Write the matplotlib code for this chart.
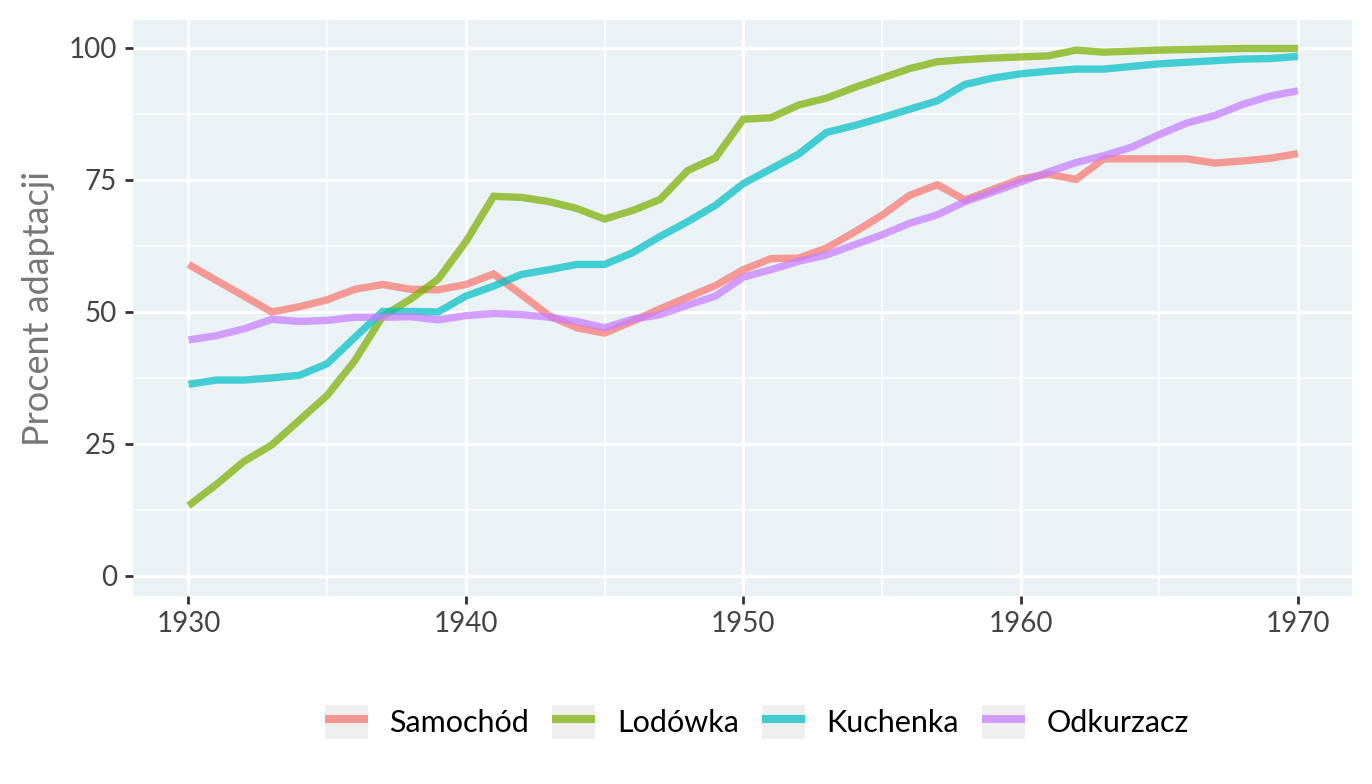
"""
plot.py — household appliance adoption 1930-1970 (ggplot-like look).
"""

import matplotlib
matplotlib.use("Agg")
import matplotlib.pyplot as plt
from matplotlib.lines import Line2D
from matplotlib.patches import Rectangle
from matplotlib.ticker import MultipleLocator

plt.rcParams["font.family"] = ["Lato", "DejaVu Sans"]

# data
years = list(range(1930, 1971))

samochod = [59.0, 56.0, 53.0, 50.0, 51.0, 52.3, 54.3, 55.2, 54.3, 54.2,
            55.2, 57.2, 53.3, 49.3, 47.0, 46.0, 48.2, 50.6, 52.8, 55.0,
            58.0, 60.1, 60.2, 62.1, 65.1, 68.3, 72.1, 74.1, 71.2, 73.2,
            75.2, 76.1, 75.1, 79.0, 79.0, 79.0, 79.0, 78.2, 78.6, 79.1,
            80.0]

lodowka = [13.3, 17.3, 21.7, 24.8, 29.5, 34.2, 40.8, 49.2, 52.4, 56.2,
           63.3, 71.9, 71.7, 70.9, 69.6, 67.6, 69.2, 71.3, 76.8, 79.2,
           86.5, 86.8, 89.2, 90.5, 92.5, 94.3, 96.1, 97.4, 97.8, 98.1,
           98.3, 98.5, 99.6, 99.2, 99.4, 99.6, 99.7, 99.8, 99.9, 99.9,
           99.9]

kuchenka = [36.3, 37.1, 37.1, 37.5, 38.0, 40.2, 45.2, 50.1, 50.1, 50.0,
            53.0, 54.9, 57.1, 58.0, 59.0, 59.0, 61.2, 64.3, 67.1, 70.2,
            74.3, 77.1, 79.9, 84.0, 85.3, 86.8, 88.4, 90.0, 93.1, 94.3,
            95.1, 95.6, 96.0, 96.0, 96.5, 97.0, 97.3, 97.6, 97.9, 98.0,
            98.4]

odkurzacz = [44.7, 45.5, 46.8, 48.6, 48.2, 48.4, 49.0, 49.0, 49.1, 48.5,
             49.3, 49.7, 49.5, 49.0, 48.2, 47.0, 48.6, 49.5, 51.3, 53.0,
             56.6, 58.0, 59.6, 60.8, 62.7, 64.6, 66.8, 68.4, 70.9, 72.7,
             74.6, 76.5, 78.3, 79.6, 81.2, 83.6, 85.8, 87.2, 89.3, 90.9,
             91.9]

series_names = ["Samochód", "Lodówka", "Kuchenka", "Odkurzacz"]
series_values = [samochod, lodowka, kuchenka, odkurzacz]
colors = ["#F8766D", "#7CAE00", "#00BFC4", "#C77CFF"]

x_ticks = [1930, 1940, 1950, 1960, 1970]
y_ticks = [0, 25, 50, 75, 100]
y_label = "Procent adaptacji"

PANEL_BG = "#EAF2F6"
LINE_ALPHA = 0.72


def main():
    fig = plt.figure(figsize=(13.72, 7.84), dpi=100)
    ax = fig.add_axes([133 / 1372, 1 - 596 / 784, (1352 - 133) / 1372, (596 - 20) / 784])
    ax.set_facecolor(PANEL_BG)

    for name, vals, col in zip(series_names, series_values, colors):
        ax.plot(years, vals, color=col, lw=5.3, alpha=LINE_ALPHA,
                solid_joinstyle="miter", solid_capstyle="butt", label=name, zorder=3)

    ax.set_xlim(1928, 1971.95)
    ax.set_ylim(-3.8, 105.3)
    ax.set_xticks(x_ticks)
    ax.set_yticks(y_ticks)
    ax.xaxis.set_minor_locator(MultipleLocator(5))
    ax.yaxis.set_minor_locator(MultipleLocator(12.5))

    # white grid, major thicker than minor
    ax.grid(which="major", color="white", lw=2.2, zorder=1)
    ax.grid(which="minor", color="white", lw=1.1, zorder=1)
    ax.set_axisbelow(True)
    for s in ax.spines.values():
        s.set_visible(False)

    ax.tick_params(which="major", length=5.5, width=2, color="#333333",
                   labelsize=20, labelcolor="#444444")
    ax.tick_params(axis="x", pad=5)
    ax.tick_params(axis="y", pad=6)
    ax.tick_params(which="minor", length=0)
    ax.set_ylabel(y_label, fontsize=26, color="#777777", labelpad=10)

    # legend keys drawn on grey boxes like ggplot
    handles = []
    for col in colors:
        box = Rectangle((0, 0), 1, 1, facecolor="#EFEFEF", edgecolor="none")
        ln = Line2D([], [], color=col, lw=5.8, alpha=LINE_ALPHA,
                    solid_capstyle="butt")
        handles.append((box, ln))
    fig.legend(handles, series_names, loc="center", ncol=4, frameon=False,
               bbox_to_anchor=(757 / 1372, 1 - 722 / 784), fontsize=22,
               handlelength=1.4, handleheight=1.34, handletextpad=0.72,
               columnspacing=0.75)

    fig.savefig("out.png", dpi=100, facecolor="white")
    plt.close(fig)


if __name__ == "__main__":
    main()
